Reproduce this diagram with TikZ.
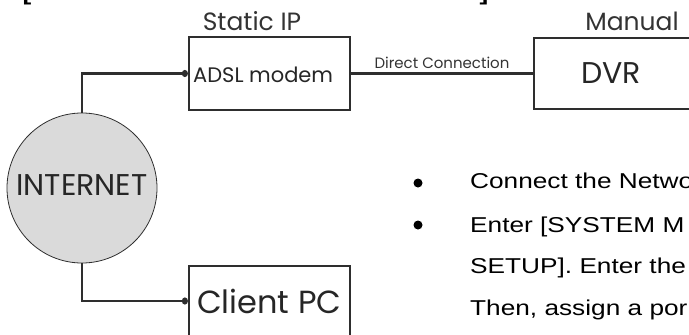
\documentclass[tikz,border=0pt]{standalone}
\usepackage{fontspec}
\setmainfont{Poppins}
\newfontfamily\bodyfont[FakeStretch=1.22]{Liberation Sans}
\usepackage{tikz}
\usetikzlibrary{positioning,arrows.meta}

\definecolor{linegray}{HTML}{2E2E2E}
\definecolor{cloudgray}{HTML}{DADADA}

\begin{document}
\begin{tikzpicture}[x=1pt, y=-1pt,
  box/.style={draw=linegray, line width=2.2pt, rectangle, inner sep=0pt},
  wire/.style={draw=linegray, line width=2.2pt},
  dot/.style={-{Circle[length=6pt,width=7pt]}},
  lab/.style={font=\fontsize{25}{25}\selectfont, text=black!80, inner sep=0pt},
  bullet/.style={circle, fill=black, inner sep=0pt, minimum size=9pt},
  item/.style={font=\bodyfont\fontsize{21.5}{21.5}\selectfont, anchor=base west, inner sep=0pt}]
  \useasboundingbox (0,0) rectangle (689,335);

  % cut off heading line
  \node[item, anchor=base] (lbr) at (27,0.5) {\bfseries [};
  \node[item, anchor=base] (rbr) at (484,0.5) {\bfseries ]};

  % devices
  \node[circle, draw=linegray, line width=0.8pt, fill=cloudgray, minimum size=150pt, inner sep=0pt] (net) at (82,188) {};
  \node[text=black!85, font=\fontsize{30}{30}\selectfont, inner sep=0pt] (nettxt) at (82,185) {INTERNET};
  \node[box, minimum width=161pt, minimum height=73pt] (modem) at (269.5,73.5) {};
  \node[text=black!85, font=\fontsize{21}{21}\selectfont, anchor=west, inner sep=0pt] (modemtxt) at (193,75) {ADSL modem};
  \node[box, minimum width=176pt, minimum height=71pt] (dvr) at (622,73.5) {};
  \node[text=black!85, font=\fontsize{30}{30}\selectfont, inner sep=0pt] (dvrtxt) at (611,73) {DVR};
  \node[box, minimum width=161pt, minimum height=70pt] (client) at (269.5,301) {};
  \node[text=black!85, font=\fontsize{32}{32}\selectfont, anchor=west, inner sep=0pt] (clienttxt) at (197,301) {Client PC};

  % labels over boxes
  \node[lab, anchor=base] (static) at (252,30) {Static IP};
  \node[lab, anchor=base] (manual) at (632,30) {Manual};

  % connections
  \draw[wire, dot] (net.north) |- (modem.west);
  \draw[wire, dot] (net.south) |- (client.west);
  \draw[wire] (modem.east) -- node[above=4pt, font=\fontsize{15}{15}\selectfont, text=black!80, inner sep=0pt] (direct) {Direct Connection} (dvr.west);

  % notes
  \node[bullet] (bul1) at (418,183) {};
  \node[bullet] (bul2) at (418,225) {};
  \node[item] (line1) at (470,188) {Connect the Netwo};
  \node[item] (line2) at (470,232) {Enter [SYSTEM M};
  \node[item] (line3) at (470,273) {SETUP]. Enter the};
  \node[item] (line4) at (470,315) {Then, assign a por};
\end{tikzpicture}
\end{document}
